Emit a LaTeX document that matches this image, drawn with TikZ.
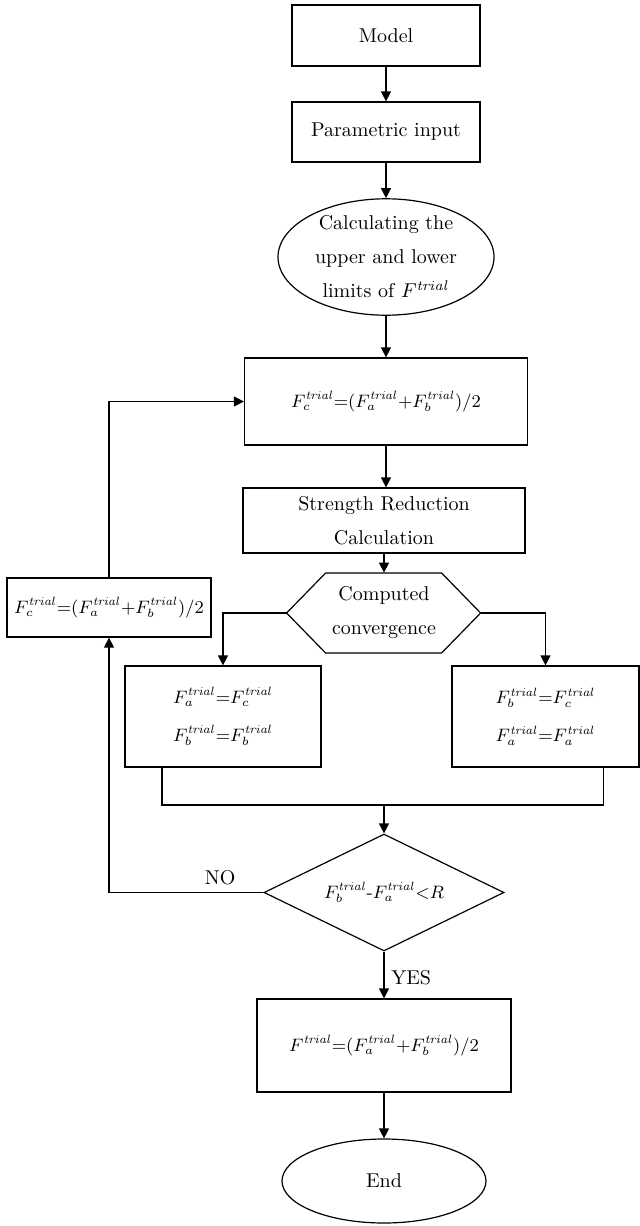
\documentclass[tikz,border=0pt]{standalone}
\usepackage{tikz}
\usetikzlibrary{shapes.geometric,arrows.meta}
\newcommand{\trl}{\mathit{trial}}

\begin{document}
\begin{tikzpicture}[x=0.5pt,y=-0.5pt,
	box/.style={draw,rectangle,inner sep=0pt,align=center,line width=0.6pt},
	oval/.style={draw,ellipse,inner sep=0pt,align=center,line width=0.6pt},
	line/.style={line width=0.6pt},
	arr/.style={line width=0.6pt,-{Triangle[length=5pt,width=5pt]}},
	twoline/.style={font=\fontsize{10}{17}\selectfont},
	formula/.style={font=\fontsize{9}{19}\selectfont}]
	\useasboundingbox (0,0) rectangle (640,1226);
	%\draw[help lines] (0,0) rectangle (640,1226);
	\node[box,minimum width=94pt,minimum height=30.5pt] (model) at (386,35.5) {Model};
	\node[box,minimum width=94pt,minimum height=30pt] (param) at (386,132) {Parametric input};
	\node[oval,twoline,minimum width=108pt,minimum height=55pt] (limits) at (386,257)
		{Calculating the\\upper and lower\\limits of $F^{\trl}$};
	\node[box,formula,minimum width=141.5pt,minimum height=43.5pt] (calc) at (386,401.5)
		{$F_c^{\trl}{=}(F_a^{\trl}{+}F_b^{\trl})/2$};
	\node[box,twoline,minimum width=141pt,minimum height=32.5pt] (reduce) at (384,520.5)
		{Strength Reduction\\Calculation};
	% hexagon drawn round the node
	\node[inner sep=0pt,minimum width=97pt,minimum height=40pt,align=center,twoline] (conv) at (384,613)
		{Computed\\convergence};
	\draw[line] (conv.west) -- ++(39,-40) -- ++(116,0) -- ++(39,40) -- ++(-39,40) -- ++(-116,0) -- cycle;
	\node[box,formula,minimum width=102pt,minimum height=29.5pt] (loop) at (109,607.5)
		{$F_c^{\trl}{=}(F_a^{\trl}{+}F_b^{\trl})/2$};
	\node[box,formula,minimum width=98pt,minimum height=50.5pt] (upa) at (223,716.5)
		{$F_a^{\trl}{=}F_c^{\trl}$\\$F_b^{\trl}{=}F_b^{\trl}$};
	\node[box,formula,minimum width=93.5pt,minimum height=50.5pt] (upb) at (545.5,716.5)
		{$F_b^{\trl}{=}F_c^{\trl}$\\$F_a^{\trl}{=}F_a^{\trl}$};
	\coordinate (merge) at (384,805);
	\node[draw,diamond,aspect=2.05,inner sep=0pt,line width=0.6pt,formula,minimum width=120pt,minimum height=58.5pt] (test) at (384,892.5)
		{$F_b^{\trl}\mbox{-}F_a^{\trl}{<}R$};
	\node[box,formula,minimum width=127pt,minimum height=46.5pt] (final) at (384,1045.5)
		{$F^{\trl}{=}(F_a^{\trl}{+}F_b^{\trl})/2$};
	\node[oval,minimum width=102pt,minimum height=42pt] (end) at (384,1181) {End};

	\draw[arr] (model) -- (param);
	\draw[arr] (param) -- (limits);
	\draw[arr] (limits) -- (calc);
	\draw[arr] (calc.south) -- (calc.south |- reduce.north);
	\draw[arr] (reduce) -- (conv);
	\draw[arr] (conv.west) -| (upa.north);
	\draw[arr] (conv.east) -| (upb.north);
	\draw[line] ([xshift=-30.5pt]upa.south) |- (merge) -| ([xshift=29pt]upb.south);
	\draw[arr] (merge) -- (test);
	\draw[arr] (test.west) -| node[above,pos=0.14]{NO} (loop.south);
	\draw[arr] (loop.north) |- (calc.west);
	\draw[arr] (test.south) -- node[right,pos=0.55]{YES} (final.north);
	\draw[arr] (final) -- (end);
\end{tikzpicture}
\end{document}
